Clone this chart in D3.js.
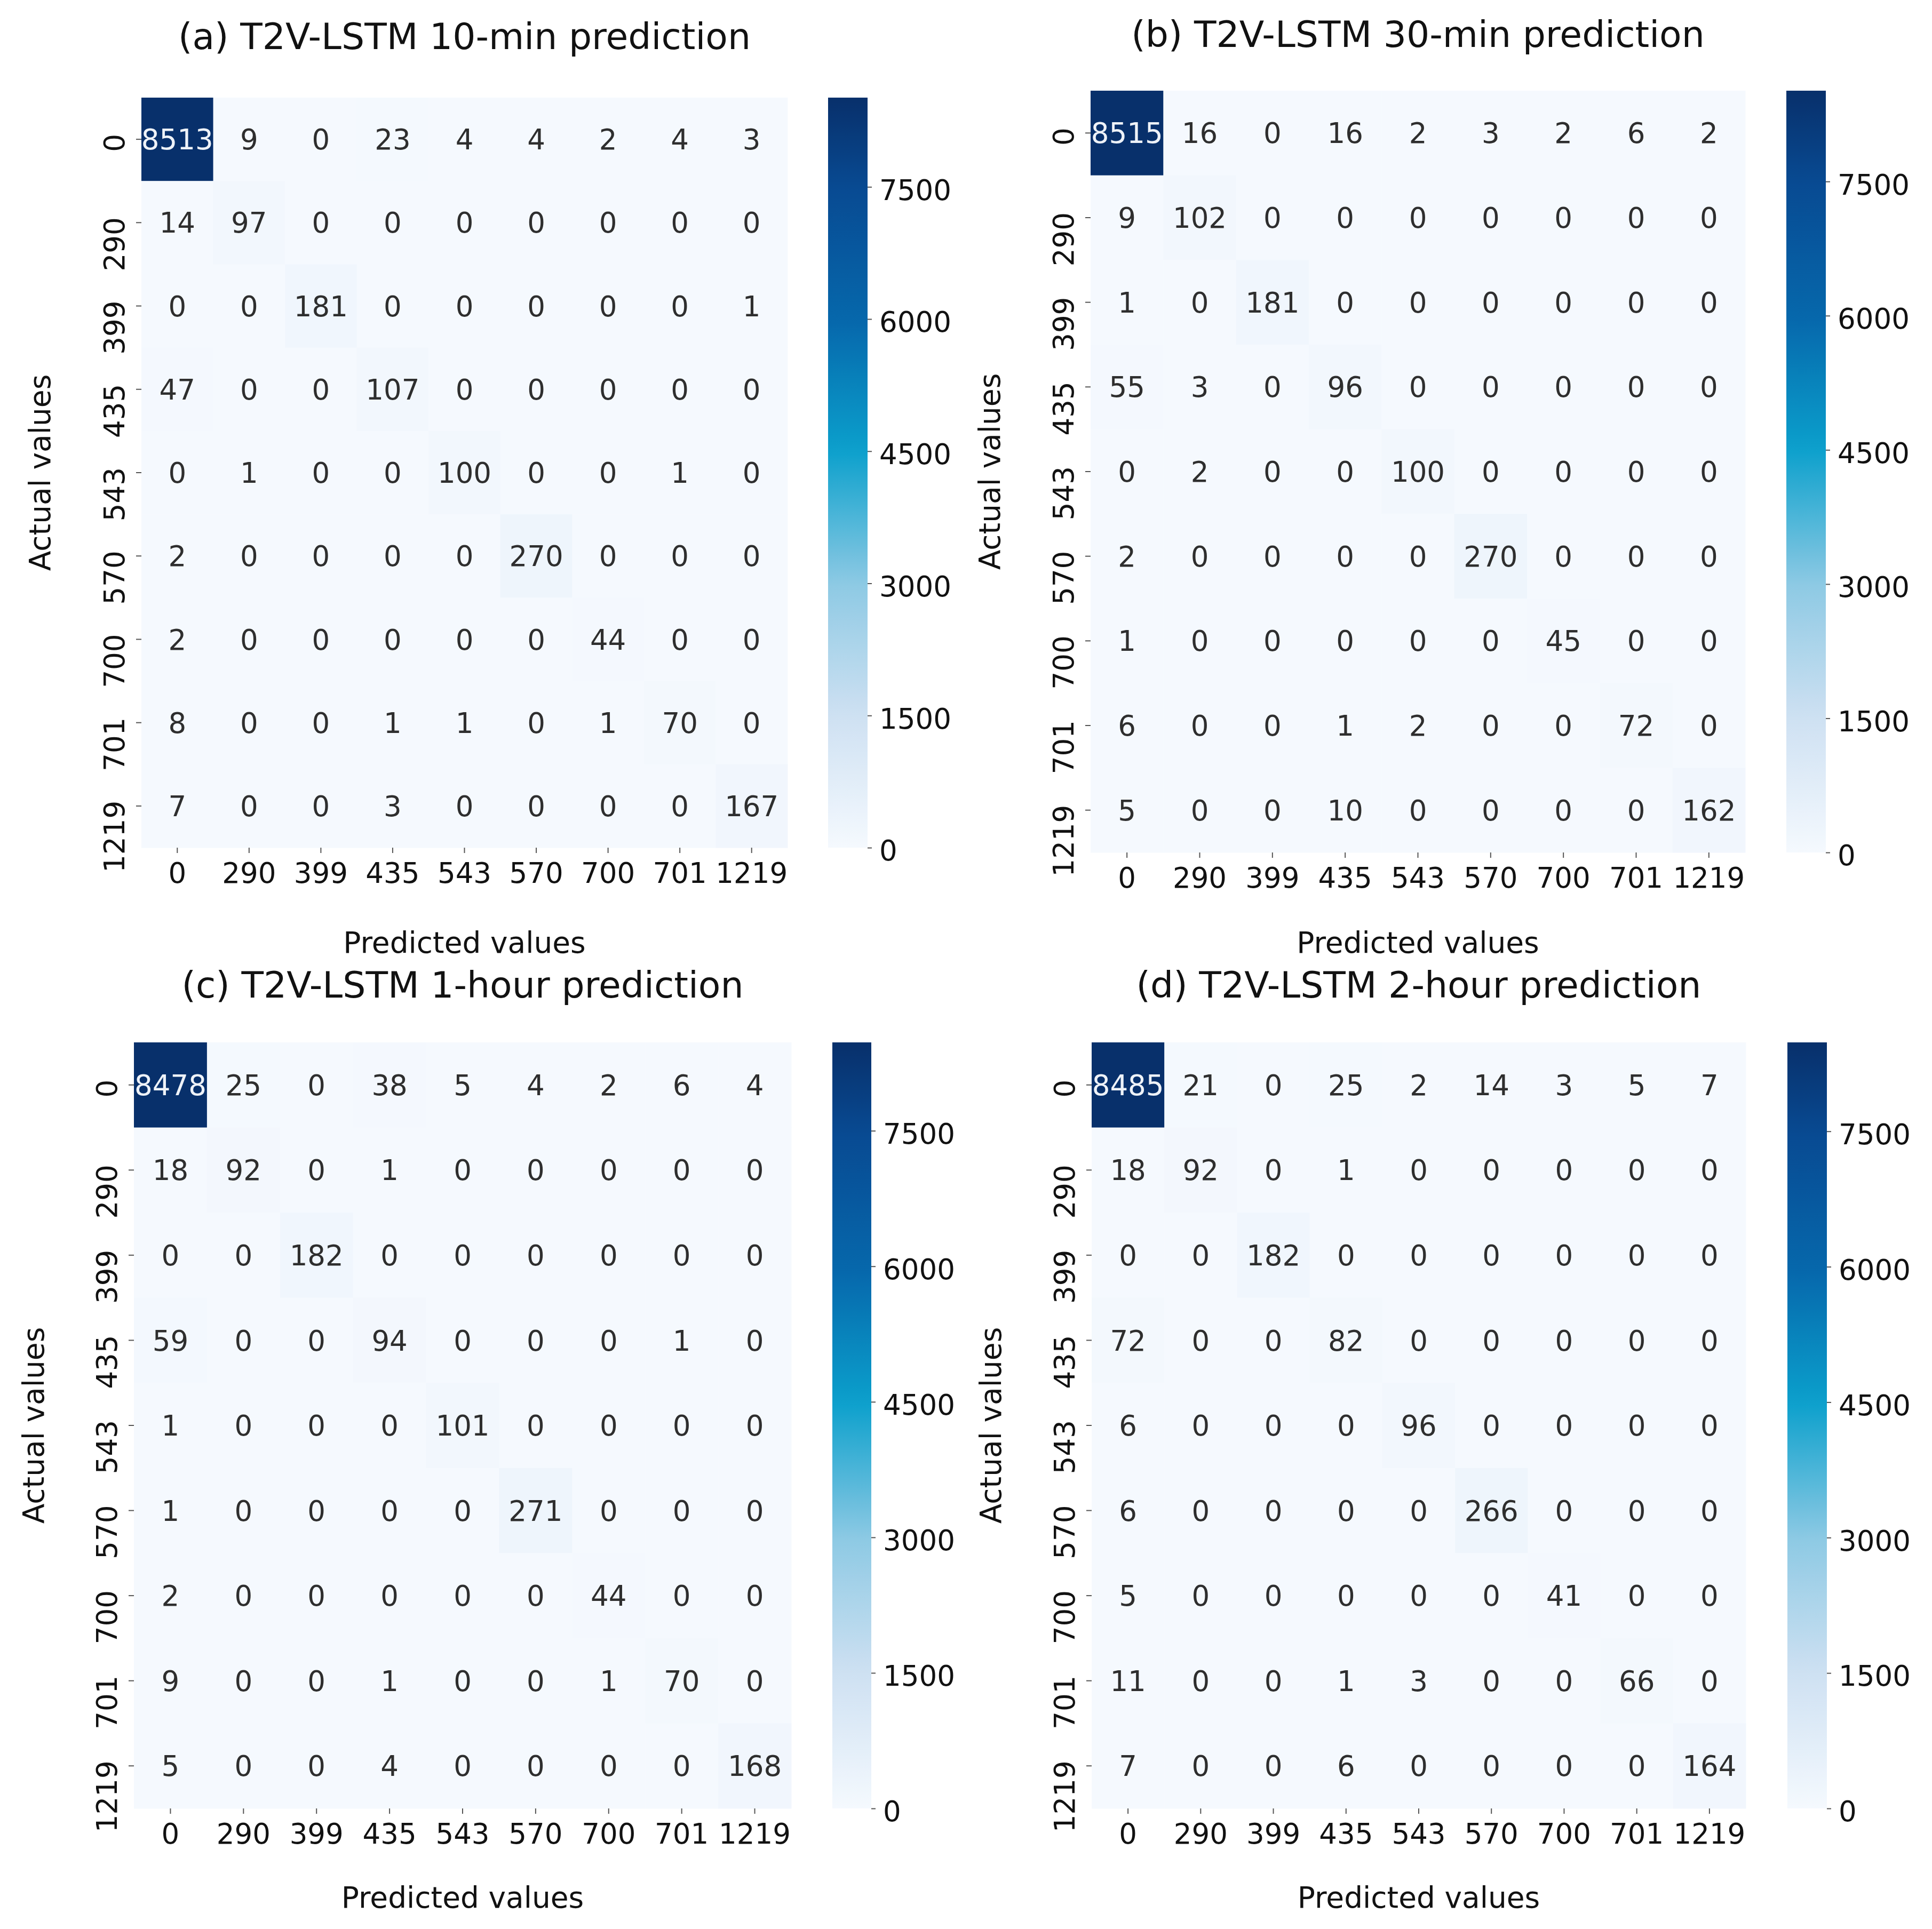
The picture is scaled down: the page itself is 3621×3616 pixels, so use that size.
<!DOCTYPE html>
<html>
<head>
<meta charset="utf-8">
<script src="https://cdn.jsdelivr.net/npm/d3@7"></script>
<style>
  body { margin: 0; background: #fff; }
  text { font-family: "DejaVu Sans", sans-serif; }
</style>
</head>
<body>
<div id="chart"></div>
<script>
// class labels (same for actual and predicted)
const classes = ["0", "290", "399", "435", "543", "570", "700", "701", "1219"];
const cbarTicks = [0, 1500, 3000, 4500, 6000, 7500];

const titles = [
  "(a) T2V-LSTM 10-min prediction",
  "(b) T2V-LSTM 30-min prediction",
  "(c) T2V-LSTM 1-hour prediction",
  "(d) T2V-LSTM 2-hour prediction"
];

// confusion matrices, rows = actual, cols = predicted
const cm10min = [
  [8513, 9, 0, 23, 4, 4, 2, 4, 3],
  [14, 97, 0, 0, 0, 0, 0, 0, 0],
  [0, 0, 181, 0, 0, 0, 0, 0, 1],
  [47, 0, 0, 107, 0, 0, 0, 0, 0],
  [0, 1, 0, 0, 100, 0, 0, 1, 0],
  [2, 0, 0, 0, 0, 270, 0, 0, 0],
  [2, 0, 0, 0, 0, 0, 44, 0, 0],
  [8, 0, 0, 1, 1, 0, 1, 70, 0],
  [7, 0, 0, 3, 0, 0, 0, 0, 167]
];
const cm30min = [
  [8515, 16, 0, 16, 2, 3, 2, 6, 2],
  [9, 102, 0, 0, 0, 0, 0, 0, 0],
  [1, 0, 181, 0, 0, 0, 0, 0, 0],
  [55, 3, 0, 96, 0, 0, 0, 0, 0],
  [0, 2, 0, 0, 100, 0, 0, 0, 0],
  [2, 0, 0, 0, 0, 270, 0, 0, 0],
  [1, 0, 0, 0, 0, 0, 45, 0, 0],
  [6, 0, 0, 1, 2, 0, 0, 72, 0],
  [5, 0, 0, 10, 0, 0, 0, 0, 162]
];
const cm1hour = [
  [8478, 25, 0, 38, 5, 4, 2, 6, 4],
  [18, 92, 0, 1, 0, 0, 0, 0, 0],
  [0, 0, 182, 0, 0, 0, 0, 0, 0],
  [59, 0, 0, 94, 0, 0, 0, 1, 0],
  [1, 0, 0, 0, 101, 0, 0, 0, 0],
  [1, 0, 0, 0, 0, 271, 0, 0, 0],
  [2, 0, 0, 0, 0, 0, 44, 0, 0],
  [9, 0, 0, 1, 0, 0, 1, 70, 0],
  [5, 0, 0, 4, 0, 0, 0, 0, 168]
];
const cm2hour = [
  [8485, 21, 0, 25, 2, 14, 3, 5, 7],
  [18, 92, 0, 1, 0, 0, 0, 0, 0],
  [0, 0, 182, 0, 0, 0, 0, 0, 0],
  [72, 0, 0, 82, 0, 0, 0, 0, 0],
  [6, 0, 0, 0, 96, 0, 0, 0, 0],
  [6, 0, 0, 0, 0, 266, 0, 0, 0],
  [5, 0, 0, 0, 0, 0, 41, 0, 0],
  [11, 0, 0, 1, 3, 0, 0, 66, 0],
  [7, 0, 0, 6, 0, 0, 0, 0, 164]
];

// blues ramp as it looks in the picture (a bit more cyan in the middle)
const rampStops = [0, 0.18, 0.35, 0.53, 0.70, 0.88, 1];
const rampColors = ["#f5f9fe", "#cde0f2", "#8ecae4", "#0ba0cc", "#0668ac", "#084a92", "#08306b"];

const W = 3621, H = 3616;
const svg = d3.select("#chart").append("svg")
  .attr("width", W).attr("height", H);
svg.append("rect").attr("width", W).attr("height", H).attr("fill", "#fff");

// panel boxes (heatmap area, colorbar, label positions)
const panels = [
  { m: cm10min, x0: 265, x1: 1476, y0: 183, y1: 1589, cb0: 1552, cb1: 1626, titleY: 92, ylabX: 74, xlabY: 1786 },
  { m: cm30min, x0: 2044, x1: 3271, y0: 170, y1: 1598, cb0: 3348, cb1: 3422, titleY: 88, ylabX: 1854, xlabY: 1786 },
  { m: cm1hour, x0: 251, x1: 1483, y0: 1954, y1: 3390, cb0: 1560, cb1: 1633, titleY: 1870, ylabX: 62, xlabY: 3576 },
  { m: cm2hour, x0: 2046, x1: 3272, y0: 1954, y1: 3390, cb0: 3350, cb1: 3424, titleY: 1870, ylabX: 1856, xlabY: 3576 }
];

const tickFont = 53, annFont = 53, labFont = 55, titleFont = 68;

panels.forEach((p, i) => {
  const g = svg.append("g");
  const maxVal = d3.max(p.m.flat());
  const x = d3.scaleBand().domain(classes).range([p.x0, p.x1]);
  const y = d3.scaleBand().domain(classes).range([p.y0, p.y1]);
  const color = d3.scaleLinear()
    .domain(rampStops.map((t) => t * maxVal))
    .range(rampColors)
    .interpolate(d3.interpolateRgb);

  const cells = [];
  p.m.forEach((row, r) => row.forEach((v, c) => cells.push({ r: classes[r], c: classes[c], v: v })));

  // cells
  g.append("g").selectAll("rect")
    .data(cells)
    .enter()
    .append("rect")
    .attr("x", (d) => x(d.c))
    .attr("y", (d) => y(d.r))
    .attr("width", x.bandwidth() + 0.5)
    .attr("height", y.bandwidth() + 0.5)
    .attr("fill", (d) => color(d.v));

  // annotations
  g.append("g").selectAll("text")
    .data(cells)
    .enter()
    .append("text")
    .attr("x", (d) => x(d.c) + x.bandwidth() / 2)
    .attr("y", (d) => y(d.r) + y.bandwidth() / 2)
    .attr("dy", "0.36em")
    .attr("text-anchor", "middle")
    .attr("font-size", annFont)
    .attr("fill", (d) => (d3.lab(color(d.v)).l < 55 ? "#eef2f8" : "#2e2e2e"))
    .text((d) => d.v);

  // x axis
  const xAxis = g.append("g")
    .attr("transform", `translate(0,${p.y1})`)
    .call(d3.axisBottom(x).tickSize(10).tickSizeOuter(0));
  xAxis.select(".domain").remove();
  xAxis.selectAll("line").attr("stroke", "#555").attr("stroke-width", 2);
  xAxis.selectAll("text")
    .attr("y", 66).attr("dy", 0)
    .attr("font-size", tickFont)
    .attr("font-family", "DejaVu Sans")
    .attr("fill", "#111");

  // y axis, labels rotated
  const yAxis = g.append("g")
    .attr("transform", `translate(${p.x0},0)`)
    .call(d3.axisLeft(y).tickSize(10).tickSizeOuter(0));
  yAxis.select(".domain").remove();
  yAxis.selectAll("line").attr("stroke", "#555").attr("stroke-width", 2);
  yAxis.selectAll("text")
    .attr("x", 0).attr("dy", 0)
    .attr("text-anchor", "end")
    .attr("transform", "translate(-32,-10) rotate(-90)")
    .attr("font-size", tickFont)
    .attr("font-family", "DejaVu Sans")
    .attr("fill", "#111");

  // colorbar
  const gradId = "grad" + i;
  const grad = svg.append("defs").append("linearGradient")
    .attr("id", gradId)
    .attr("x1", 0).attr("y1", 1).attr("x2", 0).attr("y2", 0);
  d3.range(0, 1.0001, 0.025).forEach((t) => {
    grad.append("stop").attr("offset", t).attr("stop-color", color(t * maxVal));
  });
  g.append("rect")
    .attr("x", p.cb0).attr("y", p.y0)
    .attr("width", p.cb1 - p.cb0).attr("height", p.y1 - p.y0)
    .attr("fill", `url(#${gradId})`);
  const cy = d3.scaleLinear().domain([0, maxVal]).range([p.y1, p.y0]);
  const cAxis = g.append("g")
    .attr("transform", `translate(${p.cb1},0)`)
    .call(d3.axisRight(cy).tickValues(cbarTicks).tickFormat(d3.format("d")).tickSize(8).tickPadding(14));
  cAxis.select(".domain").remove();
  cAxis.selectAll("line").attr("stroke", "#555").attr("stroke-width", 2);
  cAxis.selectAll("text")
    .attr("dy", "0.45em")
    .attr("font-size", tickFont)
    .attr("font-family", "DejaVu Sans")
    .attr("fill", "#111");

  // titles and axis labels
  const cx = (p.x0 + p.x1) / 2;
  g.append("text")
    .attr("x", cx).attr("y", p.titleY)
    .attr("text-anchor", "middle")
    .attr("font-size", titleFont)
    .attr("fill", "#111")
    .text(titles[i]);
  g.append("text")
    .attr("x", cx).attr("y", p.xlabY)
    .attr("text-anchor", "middle")
    .attr("font-size", labFont)
    .attr("fill", "#111")
    .text("Predicted values");
  g.append("text")
    .attr("transform", `translate(${p.ylabX},${(p.y0 + p.y1) / 2}) rotate(-90)`)
    .attr("dy", "0.36em")
    .attr("text-anchor", "middle")
    .attr("font-size", labFont)
    .attr("fill", "#111")
    .text("Actual values");
});
</script>
</body>
</html>
